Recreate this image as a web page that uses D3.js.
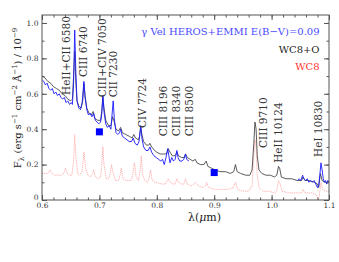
<!DOCTYPE html>
<html>
<head>
<meta charset="utf-8">
<script src="https://cdn.jsdelivr.net/npm/d3@7"></script>
<style>
  body { margin: 0; background: #fff; }
  svg { display: block; }
  text { font-family: "DejaVu Serif", serif; }
</style>
</head>
<body>
<div id="chart"></div>
<script>
// model WC8+O (black), [wavelength in micron, flux]
const wc8o = [
  [0.600,0.70],[0.605,0.69],[0.610,0.67],[0.615,0.66],[0.620,0.64],[0.625,0.63],[0.630,0.62],[0.635,0.60],
  [0.640,0.59],[0.645,0.57],[0.650,0.56],[0.653,0.57],[0.655,0.70],[0.657,0.84],[0.659,0.66],[0.661,0.56],
  [0.664,0.53],[0.668,0.52],[0.671,0.56],[0.673,0.66],[0.675,0.59],[0.678,0.52],[0.682,0.49],[0.686,0.48],
  [0.689,0.50],[0.692,0.46],[0.697,0.45],[0.702,0.45],[0.704,0.50],[0.706,0.58],[0.708,0.52],[0.711,0.45],
  [0.716,0.42],[0.720,0.42],[0.723,0.47],[0.725,0.45],[0.729,0.40],[0.733,0.39],[0.737,0.41],[0.740,0.38],
  [0.746,0.37],[0.752,0.36],[0.757,0.35],[0.760,0.37],[0.763,0.35],[0.768,0.34],[0.770,0.36],[0.772,0.41],
  [0.774,0.37],[0.777,0.33],[0.782,0.31],[0.786,0.31],[0.788,0.32],[0.791,0.30],[0.796,0.28],[0.800,0.27],
  [0.806,0.26],[0.812,0.26],[0.817,0.26],[0.820,0.29],[0.823,0.27],[0.827,0.25],[0.832,0.25],[0.835,0.27],
  [0.838,0.25],[0.843,0.24],[0.848,0.24],[0.850,0.26],[0.853,0.24],[0.858,0.23],[0.863,0.22],[0.867,0.23],
  [0.870,0.21],[0.876,0.20],[0.882,0.20],[0.886,0.22],[0.889,0.19],[0.895,0.18],[0.902,0.17],[0.910,0.16],
  [0.920,0.16],[0.928,0.15],[0.934,0.16],[0.937,0.20],[0.940,0.16],[0.946,0.15],[0.955,0.14],[0.962,0.14],
  [0.966,0.17],[0.969,0.32],[0.971,0.44],[0.973,0.40],[0.975,0.25],[0.978,0.17],[0.983,0.15],[0.990,0.14],
  [0.998,0.14],[1.005,0.13],[1.009,0.14],[1.012,0.19],[1.014,0.18],[1.017,0.13],[1.025,0.12],[1.035,0.12],
  [1.045,0.11],[1.052,0.11],[1.055,0.13],[1.058,0.11],[1.065,0.11],[1.075,0.10],[1.080,0.09],[1.082,0.07],
  [1.085,0.15],[1.088,0.11],[1.093,0.10],[1.100,0.10]
];

// observed HEROS spectrum (blue)
const herosObs = [
  [0.600,0.68],[0.603,0.67],[0.606,0.65],[0.609,0.66],[0.612,0.63],[0.615,0.62],[0.618,0.63],[0.621,0.60],
  [0.624,0.61],[0.627,0.59],[0.630,0.60],[0.633,0.58],[0.636,0.57],[0.639,0.58],[0.642,0.55],[0.645,0.56],
  [0.648,0.54],[0.651,0.55],[0.653,0.54],[0.655,0.66],[0.657,0.96],[0.659,0.72],[0.661,0.56],[0.664,0.52],
  [0.667,0.51],[0.670,0.55],[0.673,0.67],[0.675,0.58],[0.678,0.51],[0.681,0.48],[0.684,0.49],[0.687,0.47],
  [0.690,0.49],[0.693,0.45],[0.696,0.44],[0.699,0.43],[0.702,0.44],[0.704,0.48],[0.706,0.59],[0.708,0.50],
  [0.711,0.43],[0.714,0.41],[0.717,0.42],[0.720,0.40],[0.722,0.48],[0.724,0.56],[0.726,0.46],[0.729,0.38],
  [0.732,0.37],[0.735,0.38],[0.737,0.40],[0.740,0.36],[0.744,0.35],[0.748,0.34],[0.752,0.33],[0.756,0.33],
  [0.759,0.35],[0.762,0.32],[0.766,0.31],[0.769,0.33],[0.772,0.42],[0.774,0.35],[0.777,0.30],[0.781,0.28],
  [0.785,0.28],[0.788,0.30],[0.791,0.27],[0.795,0.25],[0.799,0.24],[0.803,0.23],[0.807,0.22],[0.810,0.23],
  [0.813,0.20],[0.816,0.24],[0.819,0.29],[0.821,0.25],[0.823,0.21],[0.826,0.24],[0.829,0.22],[0.832,0.23],
  [0.835,0.28],[0.837,0.24],[0.840,0.22],[0.844,0.22],[0.847,0.23],[0.850,0.26],[0.852,0.23],[0.856,0.22]
];

// observed EMMI spectrum (blue)
const emmiObs = [
  [1.045,0.11],[1.048,0.12],[1.051,0.11],[1.054,0.14],[1.056,0.12],[1.059,0.11],[1.062,0.12],[1.065,0.10],
  [1.068,0.11],[1.071,0.10],[1.074,0.11],[1.077,0.09],[1.080,0.07],[1.082,0.08],[1.084,0.14],[1.086,0.21],
  [1.088,0.17],[1.090,0.12],[1.092,0.10],[1.094,0.11],[1.096,0.09],[1.098,0.11],[1.100,0.10]
];

// model WC8 alone (red dotted)
const wc8 = [
  [0.600,0.15],[0.605,0.15],[0.610,0.15],[0.614,0.17],[0.617,0.15],[0.622,0.14],[0.628,0.14],[0.634,0.14],
  [0.638,0.15],[0.641,0.18],[0.644,0.15],[0.648,0.14],[0.652,0.14],[0.655,0.22],[0.657,0.37],[0.659,0.25],
  [0.662,0.15],[0.666,0.14],[0.670,0.16],[0.673,0.27],[0.676,0.18],[0.680,0.14],[0.684,0.13],[0.688,0.15],
  [0.690,0.17],[0.693,0.13],[0.698,0.12],[0.702,0.13],[0.704,0.19],[0.706,0.30],[0.708,0.20],[0.712,0.12],
  [0.716,0.12],[0.719,0.15],[0.721,0.20],[0.724,0.15],[0.728,0.11],[0.733,0.11],[0.736,0.14],[0.738,0.18],
  [0.741,0.12],[0.746,0.11],[0.751,0.11],[0.755,0.11],[0.758,0.14],[0.761,0.21],[0.764,0.13],[0.768,0.11],
  [0.771,0.17],[0.773,0.25],[0.775,0.15],[0.779,0.11],[0.784,0.10],[0.787,0.13],[0.789,0.17],[0.792,0.11],
  [0.797,0.10],[0.803,0.095],[0.810,0.09],[0.815,0.09],[0.818,0.11],[0.820,0.12],[0.823,0.10],[0.828,0.09],
  [0.832,0.09],[0.835,0.12],[0.838,0.10],[0.843,0.09],[0.847,0.09],[0.850,0.12],[0.853,0.09],[0.860,0.08],
  [0.865,0.09],[0.868,0.10],[0.872,0.08],[0.880,0.07],[0.885,0.08],[0.887,0.10],[0.890,0.07],[0.900,0.06],
  [0.912,0.06],[0.925,0.06],[0.933,0.07],[0.937,0.10],[0.941,0.06],[0.950,0.05],[0.960,0.05],[0.966,0.08],
  [0.969,0.25],[0.971,0.34],[0.973,0.30],[0.975,0.14],[0.978,0.07],[0.985,0.05],[0.995,0.05],[1.005,0.04],
  [1.009,0.05],[1.012,0.11],[1.015,0.09],[1.018,0.05],[1.030,0.04],[1.045,0.04],[1.052,0.04],[1.055,0.06],
  [1.058,0.04],[1.070,0.04],[1.078,0.03],[1.081,0.00],[1.083,0.02],[1.086,0.10],[1.089,0.06],[1.094,0.05],
  [1.100,0.05]
];

// photometric points (blue squares)
const photometry = [[0.70, 0.385], [0.90, 0.155]];

// line identifications: text, wavelength and flux of the label's lower end
const lineLabels = [
  { text: "HeII+CII 6580", wave: 0.6488, flux: 0.593 },
  { text: "CIII 6740", wave: 0.678, flux: 0.695 },
  { text: "CIII+CIV 7050", wave: 0.7115, flux: 0.58 },
  { text: "CII 7230", wave: 0.7307, flux: 0.58 },
  { text: "CIV 7724", wave: 0.781, flux: 0.407 },
  { text: "CIII 8196", wave: 0.8178, flux: 0.36 },
  { text: "CIII 8340", wave: 0.8404, flux: 0.36 },
  { text: "CIII 8500", wave: 0.863, flux: 0.36 },
  { text: "CIII 9710", wave: 0.992, flux: 0.294 },
  { text: "HeII 10124", wave: 1.018, flux: 0.21 },
  { text: "HeI 10830", wave: 1.0878, flux: 0.243 }
];

const xTicks = [0.6, 0.7, 0.8, 0.9, 1.0, 1.1];
const yTicks = [0, 0.2, 0.4, 0.6, 0.8, 1.0];

const W = 339, H = 262;
const margin = { top: 15, right: 10, bottom: 62, left: 42 },
  width = W - margin.left - margin.right,
  height = H - margin.top - margin.bottom;

const svg = d3.select("#chart").append("svg").attr("width", W).attr("height", H);
const g = svg.append("g").attr("transform", `translate(${margin.left},${margin.top})`);

const x = d3.scaleLinear().domain([0.6, 1.1]).range([0, width]);
const y = d3.scaleLinear().domain([0, 1.045]).range([height, 0]);

g.append("clipPath").attr("id", "clip")
  .append("rect").attr("width", width).attr("height", height);

const line = d3.line().x(d => x(d[0])).y(d => y(d[1]));
const plot = g.append("g").attr("clip-path", "url(#clip)");

plot.append("path").datum(wc8)
  .attr("d", line).attr("fill", "none")
  .attr("stroke", "#ff9090").attr("stroke-width", 0.7)
  .attr("stroke-dasharray", "1.2,0.8");

plot.append("path").datum(wc8o)
  .attr("d", line).attr("fill", "none")
  .attr("stroke", "#333").attr("stroke-width", 0.8);

[herosObs, emmiObs].forEach(function (s) {
  plot.append("path").datum(s)
    .attr("d", line).attr("fill", "none")
    .attr("stroke", "#1a1aff").attr("stroke-width", 0.9)
    .attr("stroke-linejoin", "round");
});

plot.selectAll("rect.phot").data(photometry).enter().append("rect")
  .attr("class", "phot")
  .attr("x", d => x(d[0]) - 3.5).attr("y", d => y(d[1]) - 3.5)
  .attr("width", 7).attr("height", 7)
  .attr("fill", "#0000ff");

// line labels, rotated
g.selectAll("text.lbl").data(lineLabels).enter().append("text")
  .attr("class", "lbl")
  .attr("transform", d => `translate(${x(d.wave)},${y(d.flux)}) rotate(-90)`)
  .attr("font-size", 10.5).attr("fill", "#333")
  .text(d => d.text);

// axes: inward ticks on all four sides
const minorX = d3.range(0.6, 1.1001, 0.02);
const minorY = d3.range(0, 1.0001, 0.1);

function styleAxis(sel) {
  sel.select(".domain").remove();
  sel.selectAll("line").attr("stroke", "#555");
  sel.selectAll("text").attr("font-size", 7.5).attr("fill", "#333")
    .attr("font-family", "DejaVu Serif, serif");
}

g.append("g").attr("transform", `translate(0,${height})`)
  .call(d3.axisBottom(x).tickValues(minorX).tickSize(-2.5).tickFormat(""))
  .call(styleAxis);
g.append("g").attr("transform", `translate(0,${height})`)
  .call(d3.axisBottom(x).tickValues(xTicks).tickSize(-5).tickPadding(3).tickFormat(d3.format(".1f")))
  .call(styleAxis);
g.append("g")
  .call(d3.axisTop(x).tickValues(minorX).tickSize(-2.5).tickFormat(""))
  .call(styleAxis);
g.append("g")
  .call(d3.axisTop(x).tickValues(xTicks).tickSize(-5).tickFormat(""))
  .call(styleAxis);

g.append("g")
  .call(d3.axisLeft(y).tickValues(minorY).tickSize(-2.5).tickFormat(""))
  .call(styleAxis);
const yAxisG = g.append("g")
  .call(d3.axisLeft(y).tickValues(yTicks).tickSize(-5).tickPadding(3.5)
    .tickFormat(d => d === 0 ? "0" : d3.format(".1f")(d)))
  .call(styleAxis);
// the zero label sits just above the 0.6 label
yAxisG.selectAll(".tick text").filter(d => d === 0).attr("dy", "-0.05em");

g.append("g").attr("transform", `translate(${width},0)`)
  .call(d3.axisRight(y).tickValues(minorY).tickSize(-2.5).tickFormat(""))
  .call(styleAxis);
g.append("g").attr("transform", `translate(${width},0)`)
  .call(d3.axisRight(y).tickValues(yTicks).tickSize(-5).tickFormat(""))
  .call(styleAxis);

g.append("rect").attr("width", width).attr("height", height)
  .attr("fill", "none").attr("stroke", "#555").attr("stroke-width", 1);

// legend texts
g.append("text").attr("x", x(1.0836)).attr("y", 20)
  .attr("text-anchor", "end").attr("font-size", 10).attr("fill", "#4a4aff")
  .text("\u03b3 Vel HEROS+EMMI E(B\u2212V)=0.09");
g.append("text").attr("x", x(1.0836)).attr("y", 38)
  .attr("text-anchor", "end").attr("font-size", 10).attr("fill", "#222")
  .text("WC8+O");
g.append("text").attr("x", x(1.0836)).attr("y", 55)
  .attr("text-anchor", "end").attr("font-size", 10).attr("fill", "#ff3030")
  .text("WC8");

// axis titles
g.append("text").attr("x", width / 2 + 19).attr("y", height + 21)
  .attr("text-anchor", "middle").attr("font-size", 11).attr("fill", "#222")
  .html("\u03bb(<tspan font-style='italic'>\u03bc</tspan>m)");

const yl = svg.append("text")
  .attr("transform", "translate(21,98) rotate(-90)")
  .attr("text-anchor", "middle").attr("font-size", 10).attr("fill", "#222");
yl.append("tspan").text("F");
yl.append("tspan").attr("font-size", 7.5).attr("dy", 2.5).text("\u03bb");
yl.append("tspan").attr("dy", -2.5).text(" (erg s");
yl.append("tspan").attr("font-size", 7).attr("dy", -4).text("\u22121");
yl.append("tspan").attr("dy", 4).text(" cm");
yl.append("tspan").attr("font-size", 7).attr("dy", -4).text("\u22122");
yl.append("tspan").attr("dy", 4).text(" \u00c5");
yl.append("tspan").attr("font-size", 7).attr("dy", -4).text("\u22121");
yl.append("tspan").attr("dy", 4).text(") / 10");
yl.append("tspan").attr("font-size", 7).attr("dy", -4).text("\u22129");
</script>
</body>
</html>
